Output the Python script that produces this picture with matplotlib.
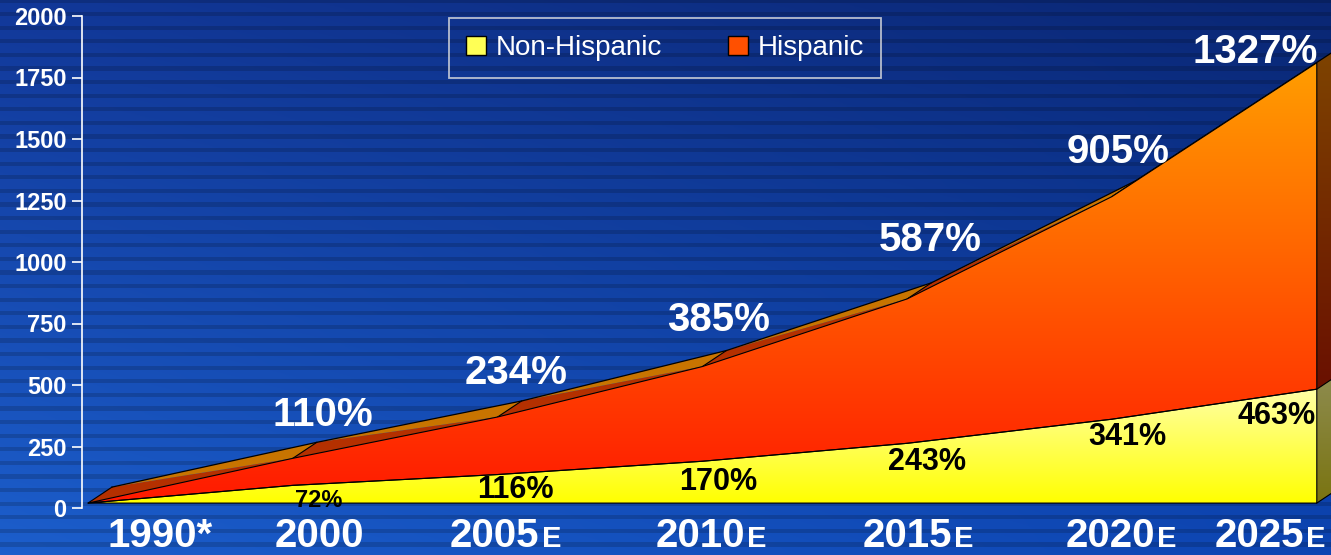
import numpy as np
import matplotlib
matplotlib.use('Agg')
import matplotlib.pyplot as plt
from matplotlib.patches import Polygon, Patch
from matplotlib.colors import LinearSegmentedColormap

plt.rcParams['font.family'] = ['Liberation Sans', 'DejaVu Sans']

# growth since 1990 (%), stacked
years = ['1990*', '2000', '2005', '2010', '2015', '2020', '2025']
estimated = [False, False, True, True, True, True, True]
non_hispanic = [0, 72, 116, 170, 243, 341, 463]
hispanic = [0, 110, 234, 385, 587, 905, 1327]
series_names = ['Non-Hispanic', 'Hispanic']
y_ticks = [0, 250, 500, 750, 1000, 1250, 1500, 1750, 2000]

# label nudges in pixels (layout only)
hisp_lbl_off = [None, (30, 43), (19, 44), (16, 47), (23, 59), (6, 45), (-62, 11)]
non_lbl_off = [None, (26, -15), (18, -15), (16, -21), (20, -19), (15, -18), (-40, -27)]
non_lbl_size = [0, 17, 22, 22, 22, 22, 22]
year_lbl_off = [(72, -39), (27, -39), (42, -39), (43, -39), (45, -39), (43, -39), (-13, -39)]

W, H = 1331, 555
fig = plt.figure(figsize=(W / 100, H / 100), dpi=100)

# blue striped background
bg = fig.add_axes([0, 0, 1, 1])
bg.set_axis_off()
yy = (np.arange(H) / (H - 1))[:, None, None]
xx = (np.arange(W) / (W - 1))[None, :, None]
tl = np.array([0.07, 0.22, 0.60])
tr = np.array([0.04, 0.15, 0.45])
bl = np.array([0.11, 0.37, 0.80])
br = np.array([0.05, 0.27, 0.70])
img = (1 - yy) * (1 - xx) * tl + (1 - yy) * xx * tr + yy * (1 - xx) * bl + yy * xx * br
stripes = np.where(np.cos(2 * np.pi * np.arange(H) / 13.6) > 0.6, 0.84, 1.0)[:, None, None]
img = np.clip(img * stripes, 0, 1)
bg.imshow(img, aspect='auto', extent=[0, 1, 0, 1], origin='upper')
bg.set_xlim(0, 1)
bg.set_ylim(0, 1)

ax = fig.add_axes([82 / W, 47 / H, (W - 82) / W, 492 / H])
ax.patch.set_alpha(0)

n = len(years)
x = np.arange(n)
DX, DY, BASE = 24 / 204.8, 65, 20
low = BASE + np.array(non_hispanic, dtype=float)
top = low + np.array(hispanic, dtype=float)


def gradient_fill(verts, c_bot, c_top, y0, y1, z):
    poly = Polygon(verts, closed=True, fc='none', ec='none')
    ax.add_patch(poly)
    cmap = LinearSegmentedColormap.from_list('g', [c_bot, c_top])
    xs = [v[0] for v in verts]
    im = ax.imshow(np.linspace(0, 1, 256)[:, None], cmap=cmap,
                   extent=[min(xs), max(xs), y0, y1], origin='lower',
                   aspect='auto', zorder=z, interpolation='bilinear')
    im.set_clip_path(poly)


# top ridge of the hispanic layer
for i in range(n - 1):
    f0, f1 = (x[i], top[i]), (x[i + 1], top[i + 1])
    b0, b1 = (x[i] + DX, top[i] + DY), (x[i + 1] + DX, top[i + 1] + DY)
    ax.add_patch(Polygon([f0, f1, b0], fc='#B43000', ec='none', zorder=2))
    ax.add_patch(Polygon([b0, b1, f1], fc='#C87400', ec='none', zorder=2))
    ax.plot([x[i], x[i] + DX], [top[i], top[i] + DY], color='black', lw=0.8, zorder=3)
ax.plot(x + DX, top + DY, color='black', lw=0.9, zorder=3)

# right-hand side faces
xe = x[-1]
gradient_fill([(xe, BASE), (xe, low[-1]), (xe + DX, low[-1] + DY), (xe + DX, BASE + DY)],
              '#7A7410', '#8E8C50', BASE, low[-1] + DY, 2)
gradient_fill([(xe, low[-1]), (xe, top[-1]), (xe + DX, top[-1] + DY), (xe + DX, low[-1] + DY)],
              '#6A1000', '#7E4400', low[-1], top[-1] + DY, 2)

# front faces
yellow_face = list(zip(x, low)) + [(x[-1], BASE), (x[0], BASE)]
gradient_fill(yellow_face, '#FFFF00', '#FFFFA6', BASE, low.max(), 4)
red_face = list(zip(x, top)) + list(zip(x[::-1], low[::-1]))
gradient_fill(red_face, '#FF1800', '#FF9E00', 0, top.max(), 4)
ax.add_patch(Polygon(yellow_face, fc='none', ec='black', lw=0.8, zorder=5))
ax.add_patch(Polygon(red_face, fc='none', ec='black', lw=0.8, zorder=5))
ax.plot([xe, xe + DX], [BASE, BASE + DY], color='black', lw=0.8, zorder=5)
ax.plot([xe, xe + DX], [low[-1], low[-1] + DY], color='black', lw=0.8, zorder=5)

# value labels
for i in range(1, n):
    ax.annotate(f'{hispanic[i]}%', (x[i], top[i]), xytext=hisp_lbl_off[i],
                textcoords='offset pixels', ha='center', va='center',
                color='white', fontsize=29, fontweight='bold', zorder=6)
    ax.annotate(f'{non_hispanic[i]}%', (x[i], low[i]), xytext=non_lbl_off[i],
                textcoords='offset pixels', ha='center', va='center',
                color='black', fontsize=non_lbl_size[i], fontweight='bold', zorder=6)

# category labels, small "E" for estimates
xt = ax.get_xaxis_transform()
for i in range(n):
    dx, dy = year_lbl_off[i]
    if estimated[i]:
        ax.annotate(years[i], (x[i], 0), xycoords=xt, xytext=(dx, dy),
                    textcoords='offset pixels', ha='right', va='baseline',
                    color='white', fontsize=29, fontweight='bold', annotation_clip=False)
        ax.annotate('E', (x[i], 0), xycoords=xt, xytext=(dx + 2, dy),
                    textcoords='offset pixels', ha='left', va='baseline',
                    color='white', fontsize=21, fontweight='bold', annotation_clip=False)
    else:
        ax.annotate(years[i], (x[i], 0), xycoords=xt, xytext=(dx, dy),
                    textcoords='offset pixels', ha='center', va='baseline',
                    color='white', fontsize=29, fontweight='bold', annotation_clip=False)

ax.set_xlim(-6 / 204.8, (W - 88) / 204.8)
ax.set_ylim(0, 2000)
ax.set_xticks([])
ax.set_yticks(y_ticks)
ax.tick_params(axis='y', colors='white', length=7, width=1.2, pad=4, labelsize=17)
for t in ax.get_yticklabels():
    t.set_fontweight('bold')
for s in ['top', 'right', 'bottom']:
    ax.spines[s].set_visible(False)
ax.spines['left'].set_color('white')
ax.spines['left'].set_linewidth(1.2)

handles = [Patch(facecolor='#FFFF55', edgecolor='black', lw=1),
           Patch(facecolor='#FF5000', edgecolor='black', lw=1)]
leg = fig.legend(handles, series_names, loc='center', bbox_to_anchor=(665 / W, 1 - 48 / H),
                 ncols=2, fontsize=20, frameon=True, fancybox=False,
                 handlelength=0.7, handleheight=0.7, handletextpad=0.35,
                 columnspacing=2.4, borderpad=0.6)
leg.get_frame().set_facecolor('none')
leg.get_frame().set_edgecolor('#E0E0E0')
leg.get_frame().set_linewidth(1.3)
for t in leg.get_texts():
    t.set_color('white')

fig.savefig('out.png', dpi=100)
